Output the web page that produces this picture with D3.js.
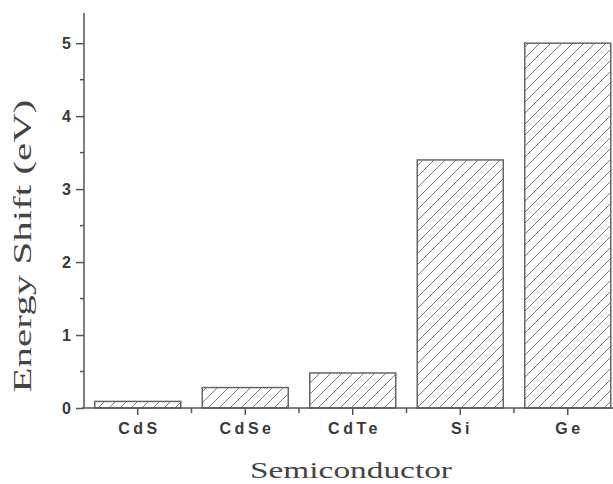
<!DOCTYPE html>
<html>
<head>
<meta charset="utf-8">
<script src="https://cdn.jsdelivr.net/npm/d3@7"></script>
<style>
  html, body { margin: 0; padding: 0; background: #fff; }
  svg { display: block; }
</style>
</head>
<body>
<svg id="chart" width="613" height="484"></svg>
<script>
// Energy shift per semiconductor
const categories = ["CdS", "CdSe", "CdTe", "Si", "Ge"];
const energyShift = [0.09, 0.28, 0.48, 3.4, 5.0];
const yTicks = [0, 1, 2, 3, 4, 5];
const yMinorTicks = [0.5, 1.5, 2.5, 3.5, 4.5];

const svg = d3.select("#chart");

// Plot frame: the category axis runs a little past the right edge of the canvas
const plotLeft = 84, plotBottom = 408, plotTop = 14, plotRightEnd = 621.5;

const x = d3.scaleBand()
  .domain(categories)
  .range([plotLeft, plotRightEnd])
  .paddingInner(0.2)
  .paddingOuter(0.1);

const y = d3.scaleLinear()
  .domain([0, 5.4])
  .range([plotBottom, plotTop]);

// Diagonal hatch fill
const defs = svg.append("defs");
defs.append("pattern")
  .attr("id", "hatch")
  .attr("patternUnits", "userSpaceOnUse")
  .attr("width", 11)
  .attr("height", 11)
  .append("path")
  .attr("d", "M-1,1 l2,-2 M0,11 l11,-11 M10,12 l2,-2")
  .attr("stroke", "#7a7a7a")
  .attr("stroke-width", 1)
  .attr("fill", "none");

// Bars
svg.append("g")
  .selectAll("rect")
  .data(categories)
  .join("rect")
  .attr("x", d => x(d))
  .attr("y", (d, i) => y(energyShift[i]))
  .attr("width", x.bandwidth())
  .attr("height", (d, i) => y(0) - y(energyShift[i]))
  .attr("fill", "url(#hatch)")
  .attr("stroke", "#666")
  .attr("stroke-width", 1.5);

const axisColor = "#555";
const tickFont = "'Liberation Sans', Arial, sans-serif";

// Y axis with major and minor ticks
const yAxis = svg.append("g")
  .attr("transform", `translate(${plotLeft},0)`)
  .call(d3.axisLeft(y).tickValues(yTicks).tickFormat(d3.format("d")).tickSize(8).tickPadding(5));
yAxis.select(".domain")
  .attr("d", `M0,${plotBottom}V${plotTop - 1}`)
  .attr("stroke", axisColor).attr("stroke-width", 1.5);
yAxis.selectAll(".tick line").attr("stroke", axisColor).attr("stroke-width", 1.5);
yAxis.selectAll(".tick text")
  .attr("font-family", tickFont)
  .attr("font-size", 16)
  .attr("font-weight", "bold")
  .attr("fill", "#3a3a3a");

svg.append("g")
  .selectAll("line")
  .data(yMinorTicks)
  .join("line")
  .attr("x1", plotLeft - 4)
  .attr("x2", plotLeft)
  .attr("y1", d => y(d))
  .attr("y2", d => y(d))
  .attr("stroke", axisColor)
  .attr("stroke-width", 1.5);

// X axis with category ticks and band-boundary minor ticks
const xAxis = svg.append("g")
  .attr("transform", `translate(0,${plotBottom})`)
  .call(d3.axisBottom(x).tickSize(7).tickPadding(8));
xAxis.select(".domain")
  .attr("d", `M${plotLeft - 2},0H${plotRightEnd}`)
  .attr("stroke", axisColor).attr("stroke-width", 1.5);
xAxis.selectAll(".tick line").attr("stroke", axisColor).attr("stroke-width", 1.5);
xAxis.selectAll(".tick text")
  .attr("font-family", tickFont)
  .attr("font-size", 16)
  .attr("font-weight", "bold")
  .attr("letter-spacing", "3.5px")
  .attr("dx", "1.75px")
  .attr("fill", "#3a3a3a");

svg.append("g")
  .selectAll("line")
  .data(categories.slice(0, -1))
  .join("line")
  .attr("x1", d => x(d) + x.bandwidth() + x.step() * x.paddingInner() / 2)
  .attr("x2", d => x(d) + x.bandwidth() + x.step() * x.paddingInner() / 2)
  .attr("y1", plotBottom)
  .attr("y2", plotBottom + 5)
  .attr("stroke", axisColor)
  .attr("stroke-width", 1.5);

// Axis titles (wide, stretched serif lettering)
const titleFont = "'Liberation Serif', 'Times New Roman', serif";
svg.append("text")
  .attr("transform", "translate(31,246) rotate(-90)")
  .attr("text-anchor", "middle")
  .attr("font-family", titleFont)
  .attr("font-size", 25)
  .attr("fill", "#444")
  .attr("textLength", 293)
  .attr("lengthAdjust", "spacingAndGlyphs")
  .text("Energy Shift (eV)");

svg.append("text")
  .attr("x", 351)
  .attr("y", 478)
  .attr("text-anchor", "middle")
  .attr("font-family", titleFont)
  .attr("font-size", 24)
  .attr("fill", "#444")
  .attr("textLength", 202)
  .attr("lengthAdjust", "spacingAndGlyphs")
  .text("Semiconductor");
</script>
</body>
</html>
